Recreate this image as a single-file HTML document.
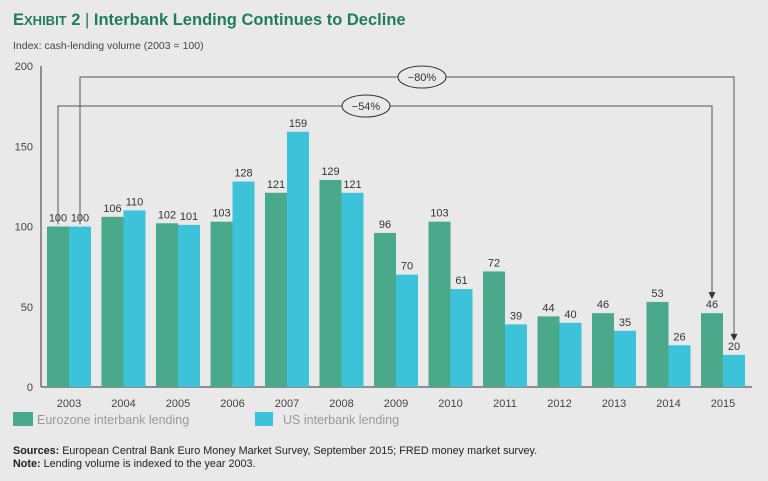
<!DOCTYPE html>
<html><head><meta charset="utf-8"><style>
body{margin:0;width:768px;height:481px;background:#e9e9e9;font-family:"Liberation Sans",sans-serif;overflow:hidden}
svg{position:absolute;left:0;top:0}
</style></head><body>
<svg width="768" height="481">
<text x="13" y="25" font-size="16.5" font-weight="bold" fill="#1f7d5c">E<tspan font-size="13">XHIBIT</tspan> 2 <tspan font-weight="normal">|</tspan> Interbank Lending Continues to Decline</text>
<text x="13" y="49" font-size="10.5" fill="#444">Index: cash-lending volume (2003 = 100)</text>
<g id="axes"></g><g id="bars"></g><g id="ann"></g>
<rect x="13" y="412" width="20" height="14" fill="#4aa98b"/>
<text x="37" y="424" font-size="12.5" fill="#999">Eurozone interbank lending</text>
<rect x="255" y="412" width="18" height="14" fill="#3cc2d9"/>
<text x="283" y="424" font-size="12.5" fill="#999">US interbank lending</text>
<text x="13" y="454" font-size="10.8" fill="#222"><tspan font-weight="bold">Sources:</tspan> European Central Bank Euro Money Market Survey, September 2015; FRED money market survey.</text>
<text x="13" y="467" font-size="10.8" fill="#222"><tspan font-weight="bold">Note:</tspan> Lending volume is indexed to the year 2003.</text>
</svg>
<script>
const years=["2003","2004","2005","2006","2007","2008","2009","2010","2011","2012","2013","2014","2015"];
const euro=[100,106,102,103,121,129,96,103,72,44,46,53,46];
const us=[100,110,101,128,159,121,70,61,39,40,35,26,20];
const yTicks=[0,50,100,150,200];
const NS="http://www.w3.org/2000/svg";
const y=v=>387-v*1.605;
const cx=i=>69+54.5*i;
function mk(p,t,a){const e=document.createElementNS(NS,t);for(const k in a)e.setAttribute(k,a[k]);document.getElementById(p).appendChild(e);return e;}
let ax=mk("axes","line",{x1:41,y1:66,x2:41,y2:387,stroke:"#333","stroke-width":1});


let bl=mk("axes","line",{x1:41,y1:387,x2:752,y2:387,stroke:"#333","stroke-width":1});


yTicks.forEach(t=>{const e=mk("axes","text",{x:33,y:y(t)+4,"font-size":11,fill:"#444","text-anchor":"end"});e.textContent=t;

});
years.forEach((yr,i)=>{
 const a=mk("bars","rect",{x:cx(i)-22,y:y(euro[i]),width:22,height:387-y(euro[i]),fill:"#4aa98b"});
 
 
 const b=mk("bars","rect",{x:cx(i),y:y(us[i]),width:22,height:387-y(us[i]),fill:"#3cc2d9"});
 
 
 const la=mk("bars","text",{x:cx(i)-11,y:y(euro[i])-5,"font-size":11,fill:"#333","text-anchor":"middle"});la.textContent=euro[i];
 
 
 const lb=mk("bars","text",{x:cx(i)+11,y:y(us[i])-5,"font-size":11,fill:"#333","text-anchor":"middle"});lb.textContent=us[i];
 
 
 const xl=mk("axes","text",{x:cx(i),y:407,"font-size":11,fill:"#444","text-anchor":"middle"});xl.textContent=yr;
 
 
});
const n=years.length-1;
function bracket(x1,top,x2,bot,ly,label,ex){
 const p=mk("ann","path",{d:`M${x1},${y(top)-2}V${ly}H${x2}V${bot-6}`,fill:"none",stroke:"#555","stroke-width":1});
 
 
 const ar=mk("ann","path",{d:`M${x2-3.5},${bot-7}L${x2+3.5},${bot-7}L${x2},${bot}Z`,fill:"#333"});
 
 
 const el=mk("ann","ellipse",{cx:ex,cy:ly,rx:24,ry:11,fill:"#e9e9e9",stroke:"#333"});
 
 
 const t=mk("ann","text",{x:ex,y:ly+4,"font-size":11,fill:"#333","text-anchor":"middle"});t.textContent=label;
 
 
}
bracket(cx(0)+11,us[0],cx(n)+11,y(us[n])-14,77,"\u221280%",422);
bracket(cx(0)-11,euro[0],cx(n)-11,y(euro[n])-14,106,"\u221254%",366);
</script>
</body></html>
